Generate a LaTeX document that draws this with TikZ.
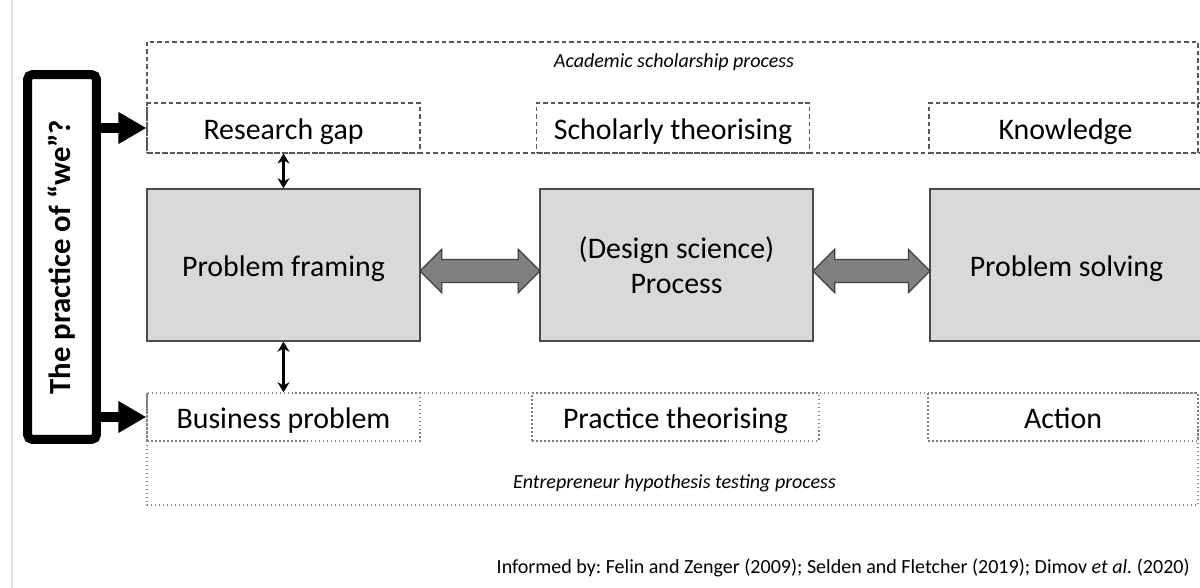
\documentclass[tikz,border=0pt]{standalone}
\usepackage{fontspec}
\setmainfont{Carlito}
\usetikzlibrary{arrows.meta,shapes.arrows,calc}
\frenchspacing

\begin{document}
\begin{tikzpicture}[x=0.02cm, y=-0.02cm,
    lbl/.style={font=\fontsize{17}{20}\selectfont, align=center, inner sep=0pt, text height=18.6pt, text depth=6pt},
    proc/.style={font=\fontsize{11.4}{13}\selectfont\itshape, inner sep=0pt},
    upper/.style={lbl, draw=black!65, dash pattern=on 0.09cm off 0.06cm, line width=0.025cm, minimum width=5.46cm, minimum height=1cm},
    lower/.style={lbl, draw=black!50, dash pattern=on 0.03cm off 0.05cm, line width=0.03cm, minimum width=5.46cm, minimum height=0.96cm},
    stage/.style={lbl, draw=black!70, fill=black!15, line width=0.03cm, minimum width=5.46cm, minimum height=3.04cm},
    fat/.style={double arrow, double arrow head extend=0.2cm, inner xsep=0pt, inner ysep=0.22cm, fill=black!50, draw=black!75, line width=0.025cm},
    link/.style={{Stealth[length=0.2cm,width=0.24cm]}-{Stealth[length=0.2cm,width=0.24cm]}, line width=0.045cm},
    push/.style={-{Triangle[length=0.56cm,width=0.6cm]}, line width=0.19cm}
  ]
  \useasboundingbox (0,0) rectangle (1200,588);
  \clip (0,0) rectangle (1200,588);

  % Boxes
  \draw[black!12, line width=0.03cm] (12,0) -- (12,588);
  \draw[draw=black!65, dash pattern=on 0.09cm off 0.06cm, line width=0.025cm] (147,42) rectangle (1198,153);
  \draw[draw=black!50, dash pattern=on 0.03cm off 0.05cm, line width=0.03cm] (147,393) rectangle (1198,505);

  \node[upper] (gap) at (283.5,128) {Research gap};
  \node[upper] (schol) at (673,128) {Scholarly theorising};
  \node[upper] (know) at (1065.5,128) {Knowledge};

  \node[stage] (frame) at (283.5,265) {Problem framing};
  \node[stage, text height=, text depth=] (design) at (676.5,265)
    {\raisebox{-2.3pt}[\height][\depth]{\parbox{5cm}{\centering\strut(Design science)\\\strut Process}}};
  \node[stage] (solve) at (1066.5,265) {Problem solving};

  \node[lower] (busi) at (283.5,417) {Business problem};
  \node[lower, minimum width=5.74cm] (prac) at (675.5,417) {Practice theorising};
  \node[lower, minimum width=5.4cm] (act) at (1063,417) {Action};

  \node[draw, line width=0.18cm, rounded corners=0.1cm, minimum width=1.38cm, minimum height=7.3cm, inner sep=0pt,
    font=\fontsize{17.5}{20}\selectfont\bfseries] (we) at (62,257) {\rotatebox{90}{The practice of “we”?}};

  % Labels
  \node[proc] (acad) at (674,62) {Academic scholarship process};
  \node[proc] (entr) at (674.5,483) {Entrepreneur hypothesis testing process};
  \node[font=\fontsize{11.4}{13}\selectfont, anchor=east, inner sep=0pt] (src) at (1190,568)
    {Informed by: Felin and Zenger (2009); Selden and Fletcher (2019); Dimov \textit{et al.} (2020)};

  % Arrows
  \draw[push] (we.east |- gap.west) -- (gap.west);
  \draw[push] (we.east |- busi.west) -- (busi.west);
  \draw[link] (gap) -- (frame);
  \draw[link] (frame) -- (busi);
  \node[fat, minimum height=2.4cm] (left) at ($(frame.east)!.5!(design.west) + (0,6)$) {};
  \node[fat, minimum height=2.34cm] (right) at ($(design.east)!.5!(solve.west) + (0,6)$) {};
\end{tikzpicture}
\end{document}
